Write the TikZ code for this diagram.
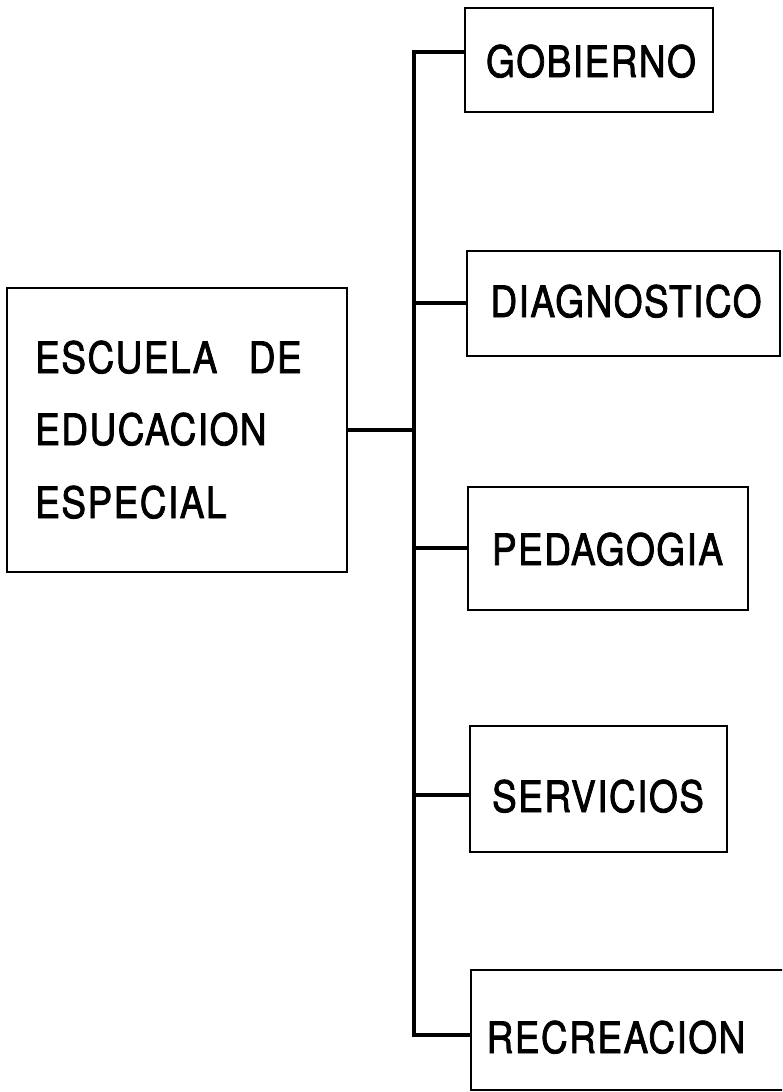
\documentclass[tikz,border=0pt]{standalone}
\usepackage{fontspec}
\setmainfont{TeX Gyre Heros}
\newfontfamily\lettering[FakeBold=2,LetterSpace=4]{TeX Gyre Heros}
\newcommand{\tall}[1]{\scalebox{1}[1.17]{#1}}
\begin{document}
\begin{tikzpicture}[x=1pt,y=-1pt,
  box/.style={draw,line width=2.2pt,inner sep=0pt},
  lbl/.style={font=\lettering\fontsize{37}{37}\selectfont, anchor=base, inner sep=0pt},
  lbll/.style={font=\lettering\fontsize{37}{37}\selectfont, anchor=base west, inner sep=0pt},
  link/.style={line width=3.6pt, line join=miter}]
\useasboundingbox (0,0) rectangle (782,1092);
\clip (0,0) rectangle (782,1092);
% boxes
\node[box, minimum width=340pt, minimum height=284pt] (main) at (177,430) {};
\node[box, minimum width=248pt, minimum height=104pt] (gob) at (589,60) {};
\node[box, minimum width=313pt, minimum height=105pt] (dia) at (623.5,303.5) {};
\node[box, minimum width=280pt, minimum height=123pt] (ped) at (608,548.5) {};
\node[box, minimum width=257pt, minimum height=126pt] (ser) at (598.5,789) {};
\node[box, minimum width=329pt, minimum height=120pt] (rec) at (635.5,1030) {};
% labels
\node[lbll] (t1) at (35,373) {\tall{ESCUELA\hspace{0.85em}DE}};
\node[lbll] (t2) at (35,445) {\tall{EDUCACION}};
\node[lbll] (t3) at (35,518) {\tall{ESPECIAL}};
\node[lbl] (lgob) at (591,77) {\tall{GOBIERNO}};
\node[lbl] (ldia) at (626,317) {\tall{DIAGNOSTICO}};
\node[lbl] (lped) at (607.5,565) {\tall{PEDAGOGIA}};
\node[lbl] (lser) at (598,812) {\tall{SERVICIOS}};
\node[lbl] (lrec) at (616,1053) {\tall{RECREACION}};
% trunk junctions
\coordinate (j1) at (414,52);
\coordinate (j2) at (414,303);
\coordinate (jm) at (414,430);
\coordinate (j3) at (414,548);
\coordinate (j4) at (414,795);
\coordinate (j5) at (414,1035);
% connectors
\draw[link] (j1 -| gob.west) -- (j1) -- (j5) -- (j5 -| rec.west);
\draw[link] (j2) -- (j2 -| dia.west);
\draw[link] (main.east) -- (jm);
\draw[link] (j3) -- (j3 -| ped.west);
\draw[link] (j4) -- (j4 -| ser.west);
\end{tikzpicture}
\end{document}
